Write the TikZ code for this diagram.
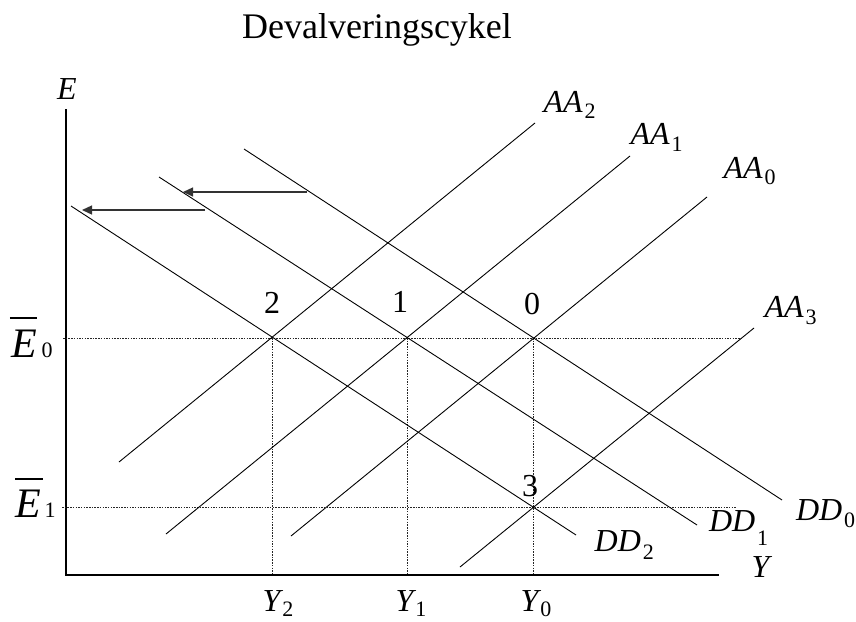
\documentclass[tikz,border=0pt]{standalone}
\usepackage{fontspec}
\setmainfont{Liberation Serif}
\usetikzlibrary{arrows.meta}
\newcommand{\lab}[3]{{\fontsize{32}{32}\selectfont\itshape #1}\kern2pt\raisebox{-#3}{\fontsize{22}{22}\selectfont #2}}
\begin{document}
\begin{tikzpicture}[x=1pt,y=-1pt,
  curve/.style={line width=0.9pt,black},
  axisline/.style={line width=1.1pt,black},
  guide/.style={line width=1pt,black!85,dash pattern=on 1.5pt off 1.2pt},
  shiftarrow/.style={line width=1.3pt,black!80,-{Triangle[length=10pt,width=9pt]}},
  lbl/.style={inner sep=0pt,outer sep=0pt},
  pt/.style={lbl,font=\fontsize{32}{32}\selectfont,anchor=base}]
\useasboundingbox (0,0) rectangle (856,621);
% title
\node[lbl,font=\fontsize{36}{36}\selectfont] (title) at (377,30) {Devalveringscykel};
% axes
\coordinate (o) at (66,575);
\coordinate (ytop) at (66,109);
\coordinate (xend) at (719,575);
\draw[axisline] (ytop) -- (o) -- (xend);
\node[lbl,anchor=base,font=\fontsize{32}{32}\selectfont\itshape] (Elab) at (67,99) {E};
\node[lbl,anchor=base west,font=\fontsize{32}{32}\selectfont\itshape] (Ylab) at (751.5,577) {Y};
% equilibrium points
\coordinate (p2) at (272,338);
\coordinate (p1) at (407,338);
\coordinate (p0) at (533,338);
\coordinate (p3) at (533,507);
% guides
\coordinate (e0l) at (63,338);
\coordinate (e0r) at (740,338);
\coordinate (e1l) at (62,507);
\coordinate (e1r) at (737,507);
\coordinate (y2b) at (272,575);
\coordinate (y1b) at (407,575);
\coordinate (y0b) at (533,575);
\draw[guide] (e0l) -- (e0r);
\draw[guide] (e1l) -- (e1r);
\draw[guide] (p2) -- (y2b);
\draw[guide] (p1) -- (y1b);
\draw[guide] (p0) -- (y0b);
% DD curves
\coordinate (dd0a) at (244,149); \coordinate (dd0b) at (782,500);
\coordinate (dd1a) at (159,177); \coordinate (dd1b) at (697,525);
\coordinate (dd2a) at (71,206);  \coordinate (dd2b) at (576,535);
\draw[curve] (dd0a) -- (dd0b);
\draw[curve] (dd1a) -- (dd1b);
\draw[curve] (dd2a) -- (dd2b);
% AA curves
\coordinate (aa2a) at (119,462); \coordinate (aa2b) at (535,123);
\coordinate (aa1a) at (166,534); \coordinate (aa1b) at (630,156);
\coordinate (aa0a) at (291,536); \coordinate (aa0b) at (707,197);
\coordinate (aa3a) at (460,567); \coordinate (aa3b) at (754,328);
\draw[curve] (aa2a) -- (aa2b);
\draw[curve] (aa1a) -- (aa1b);
\draw[curve] (aa0a) -- (aa0b);
\draw[curve] (aa3a) -- (aa3b);
% shift arrows
\coordinate (s1a) at (307,192); \coordinate (s1b) at (183,192);
\coordinate (s2a) at (205,210); \coordinate (s2b) at (82,210);
\draw[shiftarrow] (s1a) -- (s1b);
\draw[shiftarrow] (s2a) -- (s2b);
% point labels
\node[pt] (l2) at (272,313) {2};
\node[pt] (l1) at (400,312) {1};
\node[pt] (l0) at (532,314) {0};
\node[pt] (l3) at (530,496) {3};
% curve labels
\node[lbl,anchor=base west] (AA2) at (543.6,112) {\lab{AA}{2}{6.6pt}};
\node[lbl,anchor=base west] (AA1) at (630.6,144) {\lab{AA}{1}{7.7pt}};
\node[lbl,anchor=base west] (AA0) at (723.6,178) {\lab{AA}{0}{6.7pt}};
\node[lbl,anchor=base west] (AA3) at (764.6,317) {\lab{AA}{3}{7.7pt}};
\node[lbl,anchor=base west] (DD0) at (796,520) {\lab{DD}{0}{7pt}};
\node[lbl,anchor=base west] (DD1) at (709,531.7) {\lab{DD}{1}{14pt}};
\node[lbl,anchor=base west] (DD2) at (594.7,551.7) {\lab{DD}{2}{7.5pt}};
% Y labels
\node[lbl,anchor=base west] (Y2) at (262.5,611) {\lab{Y}{2}{5pt}};
\node[lbl,anchor=base west] (Y1) at (395.5,611) {\lab{Y}{1}{5pt}};
\node[lbl,anchor=base west] (Y0) at (520.5,611) {\lab{Y}{0}{5pt}};
% E bar labels
\node[lbl,anchor=base west] (E0) at (12,357) {\rlap{\kern-2pt\rule[38.3pt]{27pt}{1.5pt}}{\fontsize{42}{42}\selectfont\itshape E}\kern4pt{\fontsize{22}{22}\selectfont 0}};
\node[lbl,anchor=base west] (E1) at (15,517) {\rlap{\rule[37.3pt]{27.7pt}{1.5pt}}{\fontsize{42}{42}\selectfont\itshape E}\kern4pt{\fontsize{22}{22}\selectfont 1}};
\end{tikzpicture}
\end{document}
